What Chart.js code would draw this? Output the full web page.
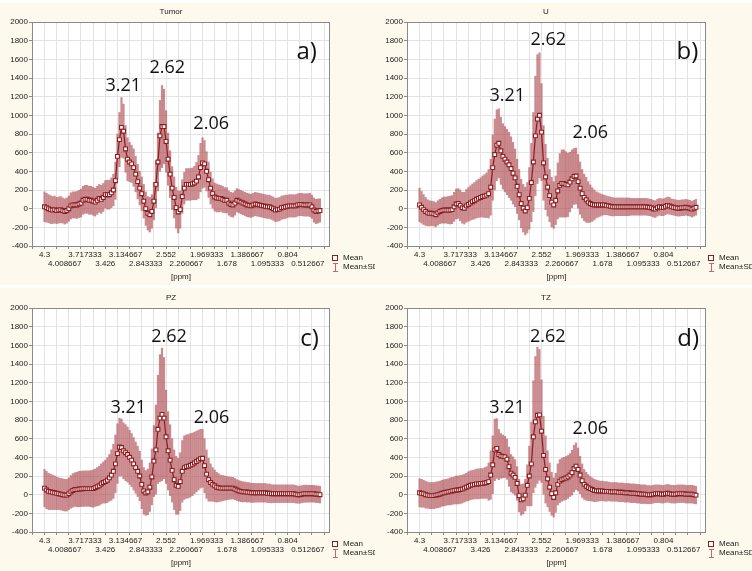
<!DOCTYPE html>
<html>
<head>
<meta charset="utf-8">
<script src="https://cdn.jsdelivr.net/npm/chart.js@4.4.0/dist/chart.umd.min.js"></script>
<style>
  html, body { margin: 0; padding: 0; background: #ffffff; }
  #wrap { position: relative; width: 752px; height: 571px; overflow: hidden; background: #ffffff; }
  .panel { position: absolute; }
  canvas { display: block; }
</style>
</head>
<body>
<div id="wrap">
  <div class="panel" style="left:0px;top:3px"><canvas id="chartA" width="376" height="282"></canvas></div>
  <div class="panel" style="left:375px;top:3px"><canvas id="chartB" width="377" height="282"></canvas></div>
  <div class="panel" style="left:0px;top:288px"><canvas id="chartC" width="376" height="283"></canvas></div>
  <div class="panel" style="left:375px;top:288px"><canvas id="chartD" width="377" height="283"></canvas></div>
</div>
<script>
// x axis: ppm, one point every tenth of a label step
const X_TICK_LABELS = ['4.3', '4.008667', '3.717333', '3.426', '3.134667', '2.843333', '2.552',
  '2.260667', '1.969333', '1.678', '1.386667', '1.095333', '0.804', '0.512667'];
const PPM_START = 4.3;
const PPM_STEP = 0.0291333;
const Y_TICKS = [-400, -200, 0, 200, 400, 600, 800, 1000, 1200, 1400, 1600, 1800, 2000];

const PANEL_TITLES = ['Tumor', 'U', 'PZ', 'TZ'];
const PANEL_LETTERS = ['a)', 'b)', 'c)', 'd)'];
const PEAK_LABELS = ['3.21', '2.62', '2.06'];

const TUMOR_MEAN = [
  20, 10, 0, -10, -15, -10, -20, -15, -10, -20,
  -30, -20, 0, 30, 40, 40, 40, 50, 60, 90,
  100, 100, 90, 90, 80, 70, 90, 110, 100, 120,
  150, 150, 150, 170, 200, 300, 560, 740, 870, 830,
  640, 530, 500, 480, 440, 370, 290, 220, 160, 80,
  0, -50, -65, -30, 80, 260, 500, 780, 880, 880,
  720, 530, 370, 220, 120, 10, -35, -10, 130, 220,
  260, 260, 260, 265, 275, 295, 340, 440, 490, 480,
  400, 310, 220, 160, 125, 115, 110, 110, 100, 90,
  90, 60, 45, 40, 60, 90, 80, 70, 60, 50,
  40, 35, 30, 40, 50, 45, 40, 35, 30, 25,
  20, 20, 10, 0, -15, -10, -5, 10, 15, 20,
  25, 30, 30, 30, 30, 40, 45, 45, 40, 40,
  40, 40, 20, -15, -30, -25, -20
];
const TUMOR_SD = [
  160, 155, 150, 150, 145, 145, 140, 140, 140, 135,
  135, 135, 135, 140, 140, 140, 145, 145, 150, 150,
  150, 150, 150, 150, 150, 150, 150, 150, 150, 150,
  150, 155, 155, 160, 170, 200, 240, 290, 320, 290,
  250, 230, 210, 200, 200, 190, 185, 180, 180, 180,
  180, 180, 185, 180, 200, 250, 310, 380, 440, 400,
  330, 280, 250, 230, 220, 220, 225, 200, 180, 170,
  170, 170, 170, 170, 180, 200, 230, 260, 270, 250,
  210, 190, 170, 160, 150, 150, 145, 140, 140, 135,
  135, 130, 130, 130, 130, 125, 125, 125, 125, 125,
  125, 125, 125, 125, 125, 125, 125, 125, 125, 125,
  125, 125, 125, 125, 125, 125, 125, 125, 125, 125,
  120, 120, 120, 120, 120, 120, 120, 120, 120, 120,
  120, 125, 125, 130, 130, 130, 125
];

const U_MEAN = [
  40, 15, -10, -30, -45, -50, -50, -55, -65, -45,
  -30, -20, -15, -15, -15, -15, -10, 20, 50, 55,
  35, 10, 5, 30, 45, 60, 75, 85, 100, 110,
  120, 130, 135, 145, 160, 230, 440, 580, 680, 700,
  620, 560, 530, 500, 470, 430, 380, 330, 240, 150,
  55, 5, -25, 10, 110, 280, 500, 780, 960, 1000,
  820, 490, 340, 230, 140, 70, 40, 90, 190, 250,
  270, 270, 260, 255, 285, 320, 345, 350, 290, 220,
  160, 120, 95, 70, 55, 45, 40, 40, 40, 40,
  40, 40, 35, 30, 25, 20, 20, 20, 20, 20,
  20, 20, 20, 20, 20, 20, 20, 20, 20, 20,
  20, 20, 18, 15, 10, 0, -5, 10, 20, 15,
  15, 25, 35, 30, 20, 15, 10, 5, 5, 10,
  10, 15, 10, 5, -5, 5, 15
];
const U_SD = [
  180, 170, 160, 150, 140, 135, 130, 130, 130, 130,
  130, 135, 140, 140, 145, 150, 150, 155, 160, 160,
  165, 165, 170, 175, 180, 185, 190, 195, 200, 205,
  210, 220, 230, 240, 260, 300, 350, 380, 380, 370,
  360, 350, 350, 350, 350, 340, 330, 310, 290, 270,
  260, 255, 255, 270, 330, 420, 530, 640, 690, 670,
  520, 400, 350, 310, 280, 265, 250, 260, 300, 340,
  360, 360, 350, 340, 320, 310, 300, 300, 290, 280,
  260, 250, 240, 220, 200, 180, 160, 140, 130, 120,
  110, 105, 100, 100, 100, 100, 95, 95, 95, 95,
  95, 95, 95, 95, 90, 90, 90, 90, 90, 90,
  90, 90, 90, 90, 90, 90, 90, 90, 90, 90,
  90, 90, 90, 90, 85, 85, 85, 85, 85, 85,
  85, 85, 85, 85, 85, 85, 85
];

const PZ_MEAN = [
  70, 50, 35, 30, 25, 20, 15, 10, 5, 0,
  -5, -5, 10, 30, 45, 55, 55, 60, 62, 64,
  65, 65, 65, 65, 65, 75, 85, 95, 115, 130,
  140, 155, 180, 210, 250, 330, 440, 510, 505, 470,
  450, 430, 400, 370, 330, 290, 250, 200, 110, 40,
  18, 30, 80, 190, 360, 480, 700, 820, 860, 820,
  620, 470, 370, 260, 160, 100, 90, 140, 250, 290,
  300, 305, 315, 325, 340, 355, 370, 385, 390, 310,
  220, 160, 130, 110, 95, 80, 75, 70, 70, 70,
  70, 70, 70, 70, 60, 50, 40, 35, 30, 30,
  25, 25, 20, 20, 20, 20, 20, 20, 20, 20,
  15, 15, 10, 10, 10, 10, 10, 10, 10, 10,
  10, 10, 10, 10, 5, 0, 0, 5, 10, 10,
  10, 10, 10, 10, 5, 5, 0
];
const PZ_SD = [
  200, 200, 195, 190, 185, 180, 175, 170, 170, 170,
  170, 170, 170, 175, 180, 180, 185, 190, 190, 190,
  190, 190, 190, 195, 200, 200, 205, 210, 215, 220,
  230, 240, 250, 270, 290, 310, 320, 310, 305, 300,
  300, 295, 290, 285, 280, 275, 270, 265, 260, 250,
  240, 245, 260, 300, 380, 480, 580, 680, 710, 650,
  500, 420, 380, 340, 320, 310, 300, 310, 330, 340,
  340, 340, 340, 335, 330, 325, 320, 315, 310, 290,
  260, 230, 200, 180, 170, 160, 150, 140, 135, 130,
  125, 120, 118, 116, 114, 112, 110, 110, 108, 106,
  105, 104, 103, 102, 101, 100, 100, 100, 100, 100,
  100, 100, 98, 96, 95, 95, 95, 95, 95, 95,
  95, 95, 95, 95, 95, 92, 92, 92, 92, 92,
  90, 90, 90, 90, 90, 90, 90
];

const TZ_MEAN = [
  20, 15, 10, 0, -5, -10, -10, -10, -5, 0,
  5, 15, 20, 25, 30, 35, 40, 45, 50, 50,
  55, 60, 70, 80, 90, 100, 105, 110, 115, 115,
  120, 120, 125, 130, 140, 210, 320, 480, 495, 430,
  415, 410, 405, 380, 300, 230, 210, 185, 120, -10,
  -55, -45, -5, 100, 200, 330, 620, 780, 850, 855,
  680, 420, 270, 170, 80, 10, -30, 20, 110, 145,
  160, 170, 178, 190, 210, 235, 280, 305, 270, 210,
  150, 110, 90, 75, 65, 55, 45, 42, 40, 40,
  40, 35, 35, 35, 30, 30, 30, 30, 25, 25,
  25, 20, 20, 20, 15, 15, 15, 10, 10, 5,
  5, 5, 0, 0, 0, 5, 10, 10, 10, 5,
  5, 10, 15, 10, 5, 5, 5, 10, 10, 10,
  10, 5, 5, 5, 5, 0, -5
];
const TZ_SD = [
  150, 150, 145, 145, 140, 140, 140, 140, 140, 140,
  140, 140, 140, 140, 140, 145, 145, 145, 150, 150,
  150, 150, 150, 150, 155, 155, 155, 155, 160, 160,
  160, 160, 165, 170, 200, 260, 310, 330, 320, 270,
  240, 230, 220, 215, 210, 200, 195, 190, 180, 175,
  165, 160, 170, 220, 320, 450, 600, 700, 730, 700,
  550, 420, 360, 300, 260, 230, 210, 210, 220, 230,
  230, 230, 230, 230, 230, 240, 250, 250, 230, 200,
  180, 160, 150, 140, 130, 125, 120, 115, 110, 105,
  105, 105, 105, 100, 100, 100, 100, 100, 100, 100,
  100, 100, 100, 100, 100, 100, 100, 100, 100, 100,
  100, 100, 98, 98, 96, 96, 95, 95, 95, 95,
  95, 95, 95, 95, 95, 95, 95, 95, 95, 95,
  95, 95, 95, 95, 95, 95, 95
];

// where the big labels sit, in data coordinates [ppm, value]: letter, then the three peaks
const LABEL_SPOTS = [
  [[0.53, 1680], [3.166, 1314], [2.535, 1507], [1.903, 907]],
  [[0.46, 1680], [3.043, 1207], [2.454, 1804], [1.852, 807]],
  [[0.49, 1668], [3.095, 932], [2.510, 1689], [1.898, 825]],
  [[0.45, 1668], [3.047, 932], [2.463, 1689], [1.852, 704]]
];

const FONT = '"Liberation Sans", Arial, sans-serif';
const BIG_FONT = '"Open Sans", "Liberation Sans", sans-serif';
const MEAN_COLOR = '#8c1c20';
const BAND_COLOR = 'rgba(172, 72, 78, 0.64)';
const GRID_COLOR = '#e3e3e3';
const X_MIN = 0.194;
const X_MAX = 4.48;
const GRID_STEP = 0.1748;

Chart.defaults.font.family = FONT;

function makeDecor(idx) {
  return {
    id: 'decor' + idx,
    beforeDraw(chart) {
      const { ctx, chartArea: ca } = chart;
      ctx.save();
      ctx.fillStyle = '#fdf9ec';
      ctx.fillRect(0, 0, chart.width, chart.height);
      ctx.fillStyle = '#ffffff';
      ctx.fillRect(ca.left, ca.top, ca.right - ca.left, ca.bottom - ca.top);
      ctx.restore();
    },
    afterDraw(chart) {
      const { ctx, chartArea: ca, scales } = chart;
      ctx.save();
      // frame
      ctx.strokeStyle = '#8a8a8a';
      ctx.lineWidth = 1;
      ctx.strokeRect(Math.round(ca.left) + 0.5, Math.round(ca.top) + 0.5,
        Math.round(ca.right - ca.left) - 1, Math.round(ca.bottom - ca.top));

      // panel title
      ctx.fillStyle = '#222';
      ctx.font = '8px ' + FONT;
      ctx.textAlign = 'center';
      ctx.textBaseline = 'middle';
      ctx.fillText(PANEL_TITLES[idx], ca.left + 139, ca.top - 10.5);

      // legend
      const lx = ca.right + 5;
      const ly1 = ca.bottom + 12;
      const ly2 = ca.bottom + 21;
      ctx.fillStyle = '#fff';
      ctx.fillRect(lx - 2, ly1 - 2, 4, 4);
      ctx.strokeStyle = MEAN_COLOR;
      ctx.strokeRect(lx - 2.5, ly1 - 2.5, 5, 5);
      ctx.strokeStyle = '#c0686c';
      ctx.beginPath();
      ctx.moveTo(lx + 0.5, ly2 - 4); ctx.lineTo(lx + 0.5, ly2 + 4);
      ctx.moveTo(lx - 2, ly2 - 3.5); ctx.lineTo(lx + 3, ly2 - 3.5);
      ctx.moveTo(lx - 2, ly2 + 4.5); ctx.lineTo(lx + 3, ly2 + 4.5);
      ctx.stroke();
      ctx.fillStyle = '#222';
      ctx.textAlign = 'left';
      ctx.fillText('Mean', lx + 8, ly1);
      ctx.fillText('Mean\u00B1SD', lx + 8, ly2);

      // big labels
      const spots = LABEL_SPOTS[idx];
      const texts = [PANEL_LETTERS[idx]].concat(PEAK_LABELS);
      ctx.fillStyle = '#111';
      ctx.textAlign = 'center';
      texts.forEach((t, k) => {
        ctx.font = (k === 0 ? '24px ' : '18px ') + BIG_FONT;
        ctx.fillText(t, scales.x.getPixelForValue(spots[k][0]), scales.y.getPixelForValue(spots[k][1]));
      });
      ctx.restore();
    }
  };
}

function chartRightPad(canvasId) {
  return document.getElementById(canvasId).width - 330 - (canvasId === 'chartB' || canvasId === 'chartD' ? 1 : 0);
}

function makePanel(canvasId, idx, mean, sd) {
  const ppm = mean.map((_, i) => PPM_START - i * PPM_STEP);
  const bars = mean.map((m, i) => ({ x: ppm[i], y: [m - sd[i], m + sd[i]] }));
  const line = mean.map((m, i) => ({ x: ppm[i], y: m }));

  return new Chart(document.getElementById(canvasId), {
    type: 'line',
    data: {
      datasets: [
        {
          type: 'line', label: 'Mean', data: line, order: 0,
          borderColor: MEAN_COLOR, borderWidth: 1.2, tension: 0,
          pointStyle: 'rect', pointRadius: 2.7, pointBorderWidth: 1.1,
          pointBackgroundColor: '#ffffff', pointBorderColor: MEAN_COLOR
        },
        {
          type: 'bar', label: 'Mean\u00B1SD', data: bars, order: 1,
          backgroundColor: BAND_COLOR, barThickness: 1.5, grouped: false
        }
      ]
    },
    options: {
      responsive: false,
      animation: false,
      devicePixelRatio: 1,
      events: [],
      layout: { padding: { top: idx < 2 ? 19 : 20, right: chartRightPad(canvasId), left: 0, bottom: 0 } },
      plugins: { legend: { display: false }, tooltip: { enabled: false } },
      scales: {
        x: {
          type: 'linear', position: 'bottom', reverse: true, min: X_MIN, max: X_MAX,
          offset: false, weight: 1,
          afterBuildTicks: s => { s.ticks = X_TICK_LABELS.map(t => ({ value: parseFloat(t) })); },
          afterFit: s => { s.height = 39; },
          grid: { display: false, drawTicks: false, offset: false },
          border: { display: false },
          ticks: {
            autoSkip: false, maxRotation: 0, minRotation: 0, padding: 5, color: '#222',
            font: { size: 8, lineHeight: 1.05 },
            callback: (v, i) => i % 2 === 0 ? [X_TICK_LABELS[i], ''] : ['', X_TICK_LABELS[i]]
          },
          title: { display: true, text: '[ppm]', color: '#222', font: { size: 8 }, padding: { top: 0, bottom: 3 } }
        },
        xg: {
          type: 'linear', position: 'bottom', reverse: true, min: X_MIN, max: X_MAX,
          offset: false, weight: 0,
          afterBuildTicks: s => {
            const t = [];
            for (let v = PPM_START + GRID_STEP; v >= X_MIN; v -= GRID_STEP) {
              if (v <= X_MAX) t.push({ value: v });
            }
            s.ticks = t;
          },
          afterFit: s => { s.height = 0; },
          grid: { color: GRID_COLOR, tickColor: '#8a8a8a', tickLength: 3, drawTicks: true },
          border: { display: false },
          ticks: { display: false }
        },
        y: {
          min: -400, max: 2000,
          afterBuildTicks: s => { s.ticks = Y_TICKS.map(v => ({ value: v })); },
          afterFit: s => { s.width = 32; },
          grid: { color: GRID_COLOR, tickColor: '#8a8a8a', tickLength: 3, drawTicks: true },
          border: { display: false },
          ticks: { color: '#222', padding: 1, font: { size: 8 }, callback: v => String(v) }
        }
      }
    },
    plugins: [makeDecor(idx)]
  });
}

makePanel('chartA', 0, TUMOR_MEAN, TUMOR_SD);
makePanel('chartB', 1, U_MEAN, U_SD);
makePanel('chartC', 2, PZ_MEAN, PZ_SD);
makePanel('chartD', 3, TZ_MEAN, TZ_SD);
</script>
</body>
</html>
